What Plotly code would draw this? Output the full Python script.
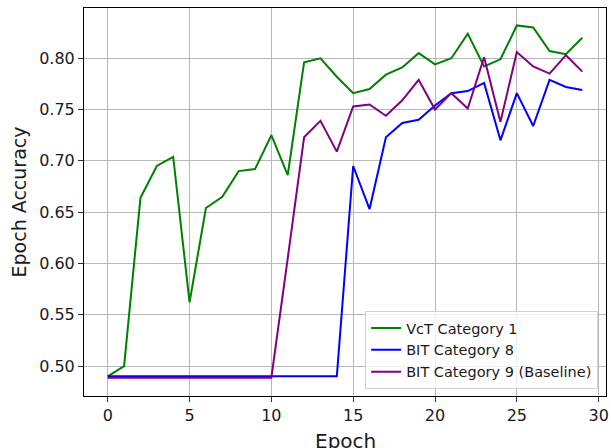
import plotly.graph_objects as go

epochs = list(range(30))

vct_cat1 = [0.490, 0.500, 0.664, 0.695, 0.704, 0.562, 0.654, 0.665, 0.690, 0.692,
            0.725, 0.686, 0.796, 0.800, 0.782, 0.766, 0.770, 0.784, 0.791, 0.805,
            0.794, 0.800, 0.824, 0.792, 0.799, 0.832, 0.830, 0.807, 0.804, 0.820]

bit_cat8 = [0.490] * 15 + [0.695, 0.653, 0.723, 0.737, 0.740, 0.754, 0.766, 0.768,
                           0.776, 0.720, 0.766, 0.734, 0.779, 0.772, 0.769]

bit_cat9 = [0.4886] * 11 + [0.605, 0.723, 0.739, 0.709, 0.753, 0.755, 0.744, 0.759,
                            0.779, 0.750, 0.766, 0.751, 0.801, 0.738, 0.806, 0.792,
                            0.785, 0.803, 0.787]

series_names = ["VcT Category 1", "BIT Category 8", "BIT Category 9 (Baseline)"]
series_colors = ["#008000", "#0000ff", "#800080"]
x_ticks = [0, 5, 10, 15, 20, 25, 30]
y_ticks = [0.50, 0.55, 0.60, 0.65, 0.70, 0.75, 0.80]
x_title = "Epoch"
y_title = "Epoch Accuracy"

fig = go.Figure()
for name, vals, col in zip(series_names, [vct_cat1, bit_cat8, bit_cat9], series_colors):
    fig.add_trace(go.Scatter(x=epochs, y=vals, mode="lines", name=name,
                             line=dict(color=col, width=2)))

axis_common = dict(
    showline=True, mirror=True, linecolor="black", linewidth=1,
    ticks="outside", ticklen=5, tickwidth=1, tickcolor="#333333",
    showgrid=True, gridcolor="#b8b8b8", gridwidth=1,
    zeroline=False, automargin=False,
    tickfont=dict(family="DejaVu Sans", size=16, color="#1a1a1a"),
)

fig.update_layout(
    width=611, height=448,
    margin=dict(l=84, r=5, t=8, b=52, autoexpand=False),
    paper_bgcolor="white", plot_bgcolor="white",
    font=dict(family="DejaVu Sans", color="#1a1a1a"),
    xaxis=dict(range=[-1.45, 30.45], tickvals=x_ticks, **axis_common),
    yaxis=dict(range=[0.4708, 0.849], tickvals=y_ticks, tickformat=".2f",
               title=dict(text=y_title, font=dict(size=19), standoff=7),
               **axis_common),
    legend=dict(x=0.985, y=0.018, xanchor="right", yanchor="bottom",
                bgcolor="rgba(255,255,255,0.8)", bordercolor="#d0d0d0", borderwidth=1,
                font=dict(size=14.5, color="#1a1a1a"), tracegroupgap=0),
    showlegend=True,
    annotations=[dict(text=x_title, xref="paper", yref="paper", x=0.5, y=-0.079,
                      xanchor="center", yanchor="top", showarrow=False,
                      font=dict(size=20, color="#1a1a1a"))],
)

fig.write_html("out.html", config={"displayModeBar": False},
               post_script="document.body.style.margin='0';document.body.style.overflow='hidden';")
